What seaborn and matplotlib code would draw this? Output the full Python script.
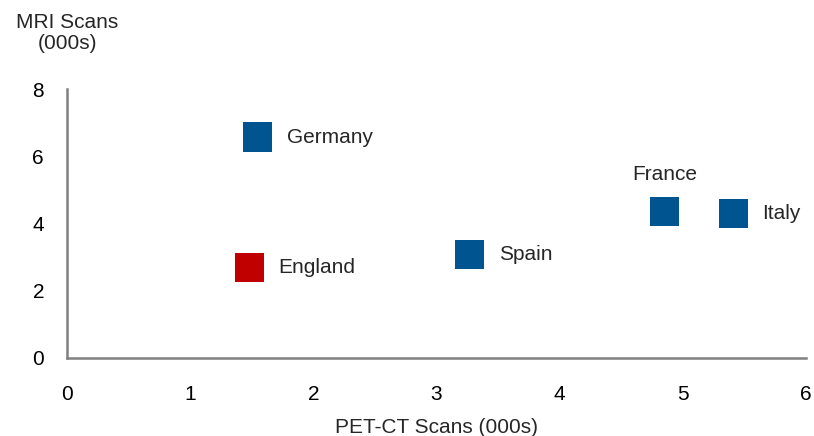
import matplotlib
matplotlib.use("Agg")
import matplotlib.pyplot as plt
import seaborn as sns
import pandas as pd

# data
countries = ['Germany', 'England', 'Spain', 'France', 'Italy']
pet_ct = [1.55, 1.48, 3.27, 4.85, 5.41]
mri = [6.58, 2.69, 3.07, 4.35, 4.30]
group = ['other', 'home', 'other', 'other', 'other']
x_ticks = [0, 1, 2, 3, 4, 5, 6]
y_ticks = [0, 2, 4, 6, 8]

df = pd.DataFrame({'country': countries, 'pet_ct': pet_ct, 'mri': mri, 'group': group})

sns.set_style('white')
plt.rcParams['font.family'] = ['Liberation Sans', 'DejaVu Sans']

fig = plt.figure(figsize=(8.14, 4.36), dpi=100)
ax = fig.add_axes([0.0823, 0.179, 0.908, 0.616])

sns.scatterplot(data=df, x='pet_ct', y='mri', hue='group',
                palette={'other': '#00548F', 'home': '#C00000'},
                marker='s', s=440, linewidth=0, legend=False, ax=ax)

# point labels: France sits above its marker, the rest to the right
for _, r in df.iterrows():
    if r['country'] == 'France':
        ax.annotate(r['country'], (r['pet_ct'], r['mri']), xytext=(0, 27),
                    textcoords='offset points', ha='center', va='center', fontsize=15)
    else:
        ax.annotate(r['country'], (r['pet_ct'], r['mri']), xytext=(21, 0),
                    textcoords='offset points', ha='left', va='center', fontsize=15)

ax.set_xlim(0, 6)
ax.set_ylim(0, 8)
ax.set_xticks(x_ticks)
ax.set_yticks(y_ticks)
ax.tick_params(axis='both', labelsize=15, colors='#808080', length=4.5, width=1.5,
               direction='out', labelcolor='black')
ax.tick_params(axis='x', pad=15)
ax.tick_params(axis='y', pad=12)

for side in ['top', 'right']:
    ax.spines[side].set_visible(False)
for side in ['left', 'bottom']:
    ax.spines[side].set_color('#808080')
    ax.spines[side].set_linewidth(1.8)

ax.set_xlabel('PET-CT Scans (000s)', fontsize=15, labelpad=10)
ax.set_ylabel('')
fig.text(0.083, 0.925, 'MRI Scans\n(000s)', ha='center', va='center',
         fontsize=15, linespacing=1.15)

fig.savefig('out.png', dpi=100)
